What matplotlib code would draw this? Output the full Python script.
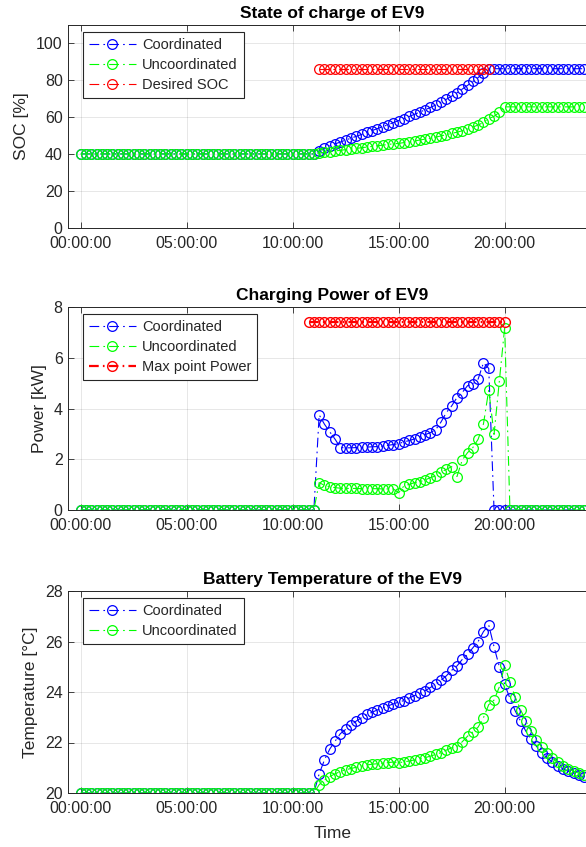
import numpy as np
import matplotlib
matplotlib.use("Agg")
import matplotlib.pyplot as plt

plt.rcParams['font.family'] = ['Liberation Sans', 'DejaVu Sans']
plt.rcParams['lines.scale_dashes'] = False

# ---------------- data ----------------
time_h = np.arange(0, 24, 0.25)          # 15-minute samples, hours of the day
tick_hours = [0, 5, 10, 15, 20]
tick_labels = ["00:00:00", "05:00:00", "10:00:00", "15:00:00", "20:00:00"]

soc_coord = ([40.0] * 45 +
             [41.6, 43.0, 44.3, 45.4, 46.4, 47.5, 48.5, 49.5, 50.5, 51.6, 52.6,
              53.7, 54.7, 55.8, 56.9, 58.0, 59.1, 60.2, 61.4, 62.6, 63.8, 65.1,
              66.4, 67.9, 69.5, 71.2, 73.0, 75.0, 77.0, 79.1, 81.2, 83.7, 86.0] +
             [86.0] * 18)
soc_uncoord = ([40.0] * 45 +
               [40.45, 40.85, 41.2, 41.6, 41.95, 42.3, 42.65, 43.0, 43.35, 43.7,
                44.05, 44.4, 44.75, 45.1, 45.45, 45.7, 46.1, 46.5, 47.0, 47.5,
                48.0, 48.5, 49.1, 49.7, 50.4, 51.1, 51.7, 52.5, 53.4, 54.5,
                55.6, 57.0, 59.0, 60.3, 62.4, 65.4] +
               [65.4] * 15)
soc_desired = [np.nan] * 45 + [86.0] * 33 + [np.nan] * 18

p_coord = ([0.0] * 45 +
           [3.75, 3.38, 3.08, 2.79, 2.46, 2.45, 2.45, 2.46, 2.47, 2.48, 2.49,
            2.50, 2.52, 2.55, 2.58, 2.62, 2.68, 2.74, 2.80, 2.88, 2.97, 3.05,
            3.17, 3.47, 3.84, 4.10, 4.43, 4.63, 4.90, 4.96, 5.16, 5.80, 5.58] +
           [0.0] * 18)
p_uncoord = ([0.0] * 45 +
             [1.08, 0.97, 0.92, 0.88, 0.86, 0.85, 0.85, 0.85, 0.84, 0.84, 0.84,
              0.84, 0.83, 0.83, 0.83, 0.68, 0.95, 1.01, 1.08, 1.12, 1.18, 1.28,
              1.34, 1.50, 1.60, 1.71, 1.32, 1.97, 2.26, 2.46, 2.79, 3.39, 4.73,
              2.98, 5.08, 7.18] +
             [0.0] * 15)
p_max = [np.nan] * 43 + [7.4] * 38 + [np.nan] * 15

t_coord = ([20.0] * 45 +
           [20.76, 21.31, 21.74, 22.05, 22.35, 22.52, 22.68, 22.85, 22.98, 23.11,
            23.2, 23.29, 23.37, 23.45, 23.53, 23.6, 23.66, 23.76, 23.86, 23.95,
            24.05, 24.18, 24.31, 24.47, 24.64, 24.86, 25.03, 25.29, 25.49, 25.75,
            26.0, 26.39, 26.65, 25.79, 25.0, 24.3, 23.75, 23.25, 22.85, 22.45,
            22.12, 21.85, 21.6, 21.4, 21.22, 21.08, 20.96, 20.86, 20.78, 20.7,
            20.64])
t_uncoord = ([20.0] * 45 +
             [20.33, 20.52, 20.65, 20.76, 20.85, 20.92, 20.97, 21.02, 21.07, 21.11,
              21.14, 21.16, 21.19, 21.2, 21.23, 21.2, 21.23, 21.27, 21.31, 21.35,
              21.4, 21.46, 21.53, 21.6, 21.7, 21.79, 21.83, 22.03, 22.25, 22.42,
              22.61, 22.98, 23.5, 23.68, 24.2, 25.05, 24.4, 23.8, 23.3, 22.85,
              22.45, 22.1, 21.82, 21.58, 21.38, 21.22, 21.08, 20.97, 20.87, 20.78,
              20.7])

# ---------------- style ----------------
W, H = 586, 847
fig = plt.figure(figsize=(W / 100, H / 100), dpi=100)
TXT = "#262626"
DASH = (0, (7, 3, 1.2, 3))

left = 68.3 / W
width = (596 - 68.3) / W
boxes = [(25, 228), (307, 510), (591, 793)]


def make_ax(top, bot):
    return fig.add_axes([left, 1 - bot / H, width, (bot - top) / H])


def style(ax, ylim, yticks, ylabel, title):
    ax.set_xlim(-0.585, 24.31)
    ax.set_ylim(*ylim)
    ax.set_yticks(yticks)
    ax.set_xticks(tick_hours)
    ax.set_xticklabels(tick_labels)
    ax.tick_params(direction='in', top=True, right=True, length=4, width=0.6,
                   labelsize=11.5, colors=TXT)
    ax.tick_params(axis='x', pad=6)
    ax.tick_params(axis='y', pad=4)
    ax.grid(True, color='#262626', alpha=0.13, linewidth=0.6)
    ax.set_axisbelow(True)
    for s in ax.spines.values():
        s.set_color(TXT)
        s.set_linewidth(0.7)
    ax.set_ylabel(ylabel, fontsize=12.5, color=TXT, labelpad=5)
    ax.set_title(title, fontsize=12.5, fontweight='bold', pad=5)


def series(ax, y, color, label, lw=0.8, mew=0.9):
    ax.plot(time_h, y, linestyle=DASH, color=color, lw=lw, marker='o',
            markersize=7.0, markerfacecolor='none', markeredgecolor=color,
            markeredgewidth=mew, label=label)


def legend(ax):
    ax_h = 203.0
    ax_w = 596 - 68.3
    bx = (83 - 68.3) / ax_w
    by = 1 - 7.0 / ax_h
    lg = ax.legend(loc='upper left', bbox_to_anchor=(bx, by), borderaxespad=0,
                   fontsize=10.5, frameon=True, fancybox=False,
                   edgecolor='#262626', framealpha=1, handlelength=3.2,
                   labelspacing=0.42, handletextpad=0.45, borderpad=0.4)
    lg.get_frame().set_linewidth(0.8)
    for t in lg.get_texts():
        t.set_color(TXT)


# SOC
ax1 = make_ax(*boxes[0])
series(ax1, soc_coord, 'blue', 'Coordinated')
series(ax1, soc_uncoord, '#00ff00', 'Uncoordinated')
series(ax1, soc_desired, 'red', 'Desired SOC')
style(ax1, (0, 109.6), [0, 20, 40, 60, 80, 100], 'SOC [%]', 'State of charge of EV9')
legend(ax1)

# Power
ax2 = make_ax(*boxes[1])
series(ax2, p_coord, 'blue', 'Coordinated')
series(ax2, p_uncoord, '#00ff00', 'Uncoordinated')
series(ax2, p_max, 'red', 'Max point Power', lw=1.6, mew=1.0)
style(ax2, (0, 8), [0, 2, 4, 6, 8], 'Power [kW]', 'Charging Power of EV9')
legend(ax2)

# Temperature
ax3 = make_ax(*boxes[2])
series(ax3, t_coord, 'blue', 'Coordinated')
series(ax3, t_uncoord, '#00ff00', 'Uncoordinated')
style(ax3, (20, 28), [20, 22, 24, 26, 28], 'Temperature [°C]',
      'Battery Temperature of the EV9')
ax3.set_xlabel('Time', fontsize=12.5, color=TXT, labelpad=7)
legend(ax3)

fig.savefig('out.png', dpi=100)
